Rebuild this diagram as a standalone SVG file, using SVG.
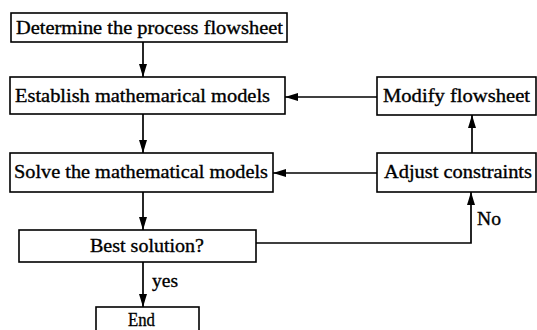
<svg xmlns="http://www.w3.org/2000/svg" width="537" height="330" viewBox="0 0 537 330">
<defs>
<style>
.box{fill:#fff;stroke:#000;stroke-width:1.6}
.t{font-family:"Liberation Serif","Times New Roman",serif;font-size:19px;fill:#000;stroke:#000;stroke-width:0.35}
.c{fill:none;stroke:#000;stroke-width:1.7}
</style>
<marker id="ah" viewBox="0 0 13 8" refX="13" refY="4" markerWidth="13" markerHeight="8" markerUnits="userSpaceOnUse" orient="auto">
<path d="M0,0 L13,4 L0,8 Z" fill="#000"/>
</marker>
</defs>
<rect width="537" height="330" fill="#fff"/>
<g id="connectors">
<line class="c" x1="143" y1="42" x2="143" y2="77" marker-end="url(#ah)"/>
<line class="c" x1="143" y1="114" x2="143" y2="153" marker-end="url(#ah)"/>
<line class="c" x1="143" y1="192" x2="143" y2="230" marker-end="url(#ah)"/>
<line class="c" x1="143" y1="262" x2="143" y2="307" marker-end="url(#ah)"/>
<line class="c" x1="377" y1="97" x2="285" y2="97" marker-end="url(#ah)"/>
<line class="c" x1="377" y1="173" x2="273" y2="173" marker-end="url(#ah)"/>
<line class="c" x1="472" y1="153" x2="472" y2="115" marker-end="url(#ah)"/>
<polyline class="c" points="256,243 471,243 471,192" marker-end="url(#ah)"/>
<text class="t" x="152" y="287" textLength="26" lengthAdjust="spacingAndGlyphs">yes</text>
<text class="t" x="477" y="225" textLength="24" lengthAdjust="spacingAndGlyphs">No</text>
</g>
<g id="n1">
<rect class="box" x="11" y="13" width="276" height="29"/>
<text class="t" x="16" y="34" textLength="267" lengthAdjust="spacingAndGlyphs">Determine the process flowsheet</text>
</g>
<g id="n2">
<rect class="box" x="10" y="77" width="275" height="37"/>
<text class="t" x="15" y="102" textLength="255" lengthAdjust="spacingAndGlyphs">Establish mathemarical models</text>
</g>
<g id="n3">
<rect class="box" x="10" y="153" width="263" height="39"/>
<text class="t" x="14" y="178" textLength="254" lengthAdjust="spacingAndGlyphs">Solve the mathematical models</text>
</g>
<g id="n4">
<rect class="box" x="19" y="230" width="237" height="32"/>
<text class="t" x="90" y="252" textLength="114" lengthAdjust="spacingAndGlyphs">Best solution?</text>
</g>
<g id="n5">
<rect class="box" x="96" y="307" width="103" height="30"/>
<text class="t" x="128" y="326" textLength="27" lengthAdjust="spacingAndGlyphs">End</text>
</g>
<g id="n6">
<rect class="box" x="377" y="77" width="159" height="38"/>
<text class="t" x="383" y="102" textLength="147" lengthAdjust="spacingAndGlyphs">Modify flowsheet</text>
</g>
<g id="n7">
<rect class="box" x="377" y="153" width="159" height="39"/>
<text class="t" x="384" y="178" textLength="148" lengthAdjust="spacingAndGlyphs">Adjust constraints</text>
</g>
</svg>
